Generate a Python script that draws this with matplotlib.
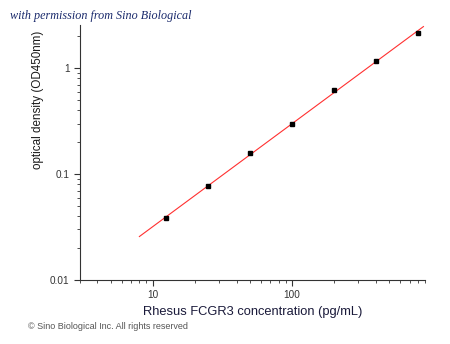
import numpy as np
import matplotlib.pyplot as plt

plt.rcParams['font.family'] = ['Liberation Sans', 'DejaVu Sans']

# standard curve data
conc = [12.5, 25, 50, 100, 200, 400, 800]
od = [0.0385, 0.077, 0.158, 0.296, 0.62, 1.16, 2.14]
x_ticks = [10, 100]
x_ticklabels = ['10', '100']
y_ticks = [0.01, 0.1, 1]
y_ticklabels = ['0.01', '0.1', '1']

fig = plt.figure(figsize=(4.5, 3.44), dpi=100)
ax = fig.add_axes([0.178, 0.186, 0.766, 0.741])

# linear fit in log-log space
k, b = np.polyfit(np.log10(conc), np.log10(od), 1)
xf = np.logspace(np.log10(8), np.log10(880), 50)
ax.plot(xf, 10 ** (k * np.log10(xf) + b), color='#ff3030', lw=0.8)
ax.plot(conc, od, 's', color='black', ms=3.5)

ax.set_xscale('log')
ax.set_yscale('log')
ax.set_xlim(3, 900)
ax.set_ylim(0.01, 2.55)
ax.set_xticks(x_ticks)
ax.set_xticklabels(x_ticklabels)
ax.set_yticks(y_ticks)
ax.set_yticklabels(y_ticklabels)
ax.tick_params(which='major', length=4, width=0.8, labelsize=7.2, colors='#333333')
ax.tick_params(which='minor', length=2, width=0.6, colors='#333333')
for s in ['top', 'right']:
    ax.spines[s].set_visible(False)
for s in ['left', 'bottom']:
    ax.spines[s].set_color('#333333')

ax.set_xlabel('Rhesus FCGR3 concentration (pg/mL)', fontsize=9.3, color='#1a1a3a', labelpad=4)
ax.set_ylabel('optical density (OD450nm)', fontsize=8.4, color='#1a1a1a')
ax.yaxis.set_label_coords(-0.105, 0.706)

fig.text(0.022, 0.945, 'with permission from Sino Biological', fontsize=8.7,
         family='Liberation Serif', style='italic', color='#1a2a6c')
fig.text(0.062, 0.045, '\u00a9 Sino Biological Inc. All rights reserved', fontsize=6.5,
         color='#555555')

fig.savefig('out.png', dpi=100)
